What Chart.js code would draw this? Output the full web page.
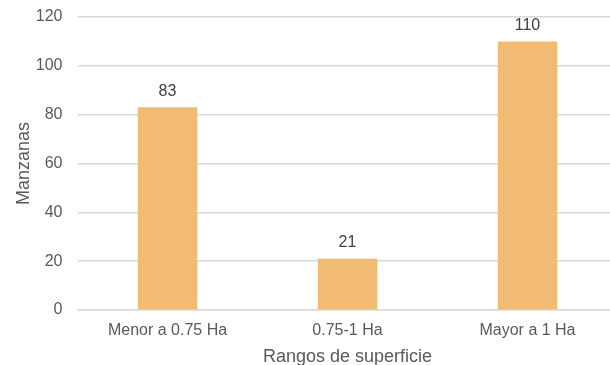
<!DOCTYPE html>
<html>
<head>
<meta charset="utf-8">
<script src="https://cdn.jsdelivr.net/npm/chart.js@4.4.1/dist/chart.umd.min.js"></script>
<style>
  html, body { margin: 0; padding: 0; background: #fff; overflow: hidden; }
  #wrap { width: 620px; height: 365px; }
</style>
</head>
<body>
<div id="wrap"><canvas id="c" width="620" height="365"></canvas></div>
<script>
// Surface ranges and number of manzanas in each
const categories = ['Menor a 0.75 Ha', '0.75-1 Ha', 'Mayor a 1 Ha'];
const manzanas = [83, 21, 110];
const yTicks = [0, 20, 40, 60, 80, 100, 120];

const FONT = '"Liberation Sans", Arial, sans-serif';
const TEXT = '#595959';

// Value labels drawn above each bar
const valueLabels = {
  id: 'valueLabels',
  afterDatasetsDraw(chart) {
    const ctx = chart.ctx;
    const meta = chart.getDatasetMeta(0);
    ctx.save();
    ctx.font = '16px ' + FONT;
    ctx.fillStyle = '#404040';
    ctx.textAlign = 'center';
    ctx.textBaseline = 'middle';
    meta.data.forEach((bar, i) => {
      ctx.fillText(String(chart.data.datasets[0].data[i]), bar.x, bar.y - 16);
    });
    ctx.restore();
  }
};

new Chart(document.getElementById('c'), {
  type: 'bar',
  data: {
    labels: categories,
    datasets: [{
      data: manzanas,
      backgroundColor: '#F2BB74',
      barPercentage: 0.33,
      categoryPercentage: 1
    }]
  },
  options: {
    responsive: false,
    animation: false,
    layout: { padding: { top: 17, right: 2.5, bottom: 0, left: 0 } },
    plugins: { legend: { display: false }, tooltip: { enabled: false } },
    scales: {
      x: {
        grid: { display: false },
        border: { display: true, color: '#D9D9D9', width: 1.5 },
        ticks: { color: TEXT, font: { family: FONT, size: 16 }, padding: 3, maxRotation: 0 },
        title: { display: true, text: 'Rangos de superficie', color: TEXT, font: { family: FONT, size: 18 }, padding: { top: 2, bottom: -3 } },
        afterFit(scale) {
          scale.height = 55;
          scale.paddingLeft = 0;
          scale.paddingRight = 0;
        }
      },
      y: {
        min: 0,
        max: 120,
        afterBuildTicks(scale) { scale.ticks = yTicks.map(v => ({ value: v })); },
        grid: { color: '#D9D9D9', lineWidth: 1.5, drawTicks: false },
        border: { display: false },
        ticks: { color: TEXT, font: { family: FONT, size: 16 }, padding: 15 },
        title: { display: true, text: 'Manzanas', color: TEXT, font: { family: FONT, size: 18 }, padding: { top: 13, bottom: 0 } },
        afterFit(scale) {
          scale.width = 77.5;
          scale.paddingTop = 0;
          scale.paddingBottom = 0;
        }
      }
    }
  },
  plugins: [valueLabels]
});
</script>
</body>
</html>
